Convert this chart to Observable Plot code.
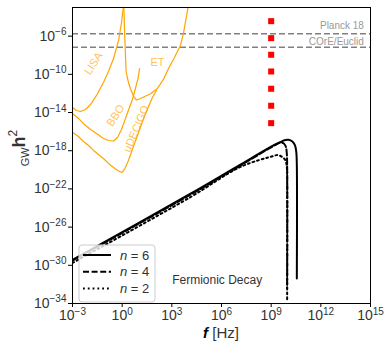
<!DOCTYPE html>
<html><head><meta charset="utf-8">
<script src="https://cdn.jsdelivr.net/npm/d3@7"></script>
<script src="https://cdn.jsdelivr.net/npm/@observablehq/plot@0.6"></script>
<style>body{margin:0;background:#fff} #chart{position:absolute;left:0;top:0}</style>
</head><body><div id="chart"></div>
<script>
// ---- data (log10 values) ----
const xTickExps = [-3, 0, 3, 6, 9, 12, 15];
const yTickExps = [-34, -30, -26, -22, -18, -14, -10, -6];

const boundNames = ["Planck 18", "COrE/Euclid"];
const boundLogOmega = [-5.76, -7.16];

const lisaLogF = [-3.00, -2.76, -2.52, -2.21, -1.91, -1.55, -1.13, -0.83, -0.52, -0.22, -0.04, 0.08];
const lisaLogO = [-13.47, -13.79, -13.89, -13.68, -13.16, -12.21, -10.85, -9.70, -8.34, -6.46, -4.57, -2.79];
const bboLogF = [-3.00, -2.64, -2.28, -1.91, -1.55, -1.13, -0.83, -0.52, -0.28, -0.04, 0.20, 0.44, 0.62, 0.80, 0.96, 1.05];
const bboLogO = [-14.10, -14.62, -15.25, -15.77, -16.19, -16.72, -16.93, -16.98, -16.61, -15.77, -14.62, -13.47, -12.63, -11.48, -10.43, -9.39];
const decigoLogF = [-3.00, -2.64, -2.34, -2.03, -1.73, -1.43, -1.13, -0.83, -0.52, -0.22, -0.01, 0.14, 0.38, 0.68, 0.99, 1.29, 1.59, 1.83, 2.07];
const decigoLogO = [-16.06, -16.51, -17.03, -17.45, -17.97, -18.39, -18.81, -19.33, -19.75, -20.12, -20.28, -19.96, -19.02, -17.55, -16.09, -14.62, -13.37, -12.42, -11.69];
const etLogF = [0.10, 0.16, 0.24, 0.38, 0.50, 0.70, 0.86, 1.11, 1.71, 2.13, 2.51, 2.80, 3.12, 3.52, 3.70, 4.00];
const etLogO = [-2.79, -6.25, -9.77, -10.85, -11.51, -12.32, -12.69, -12.53, -12.04, -11.48, -10.47, -9.39, -8.37, -6.98, -5.72, -2.79];

const sensNames = ["LISA", "BBO", "uDECIGO", "ET"];
const sensLabelLogF = [-1.73, -0.40, 0.85, 2.13];
const sensLabelLogO = [-8.86, -14.31, -15.70, -8.76];
const sensLabelAngle = [-57, -57, -67, 0];

const redLogF = [9, 9, 9, 9, 9, 9, 9];
const redLogO = [-4.43, -6.21, -7.95, -9.70, -11.51, -13.29, -15.11];

const seriesNames = ["n = 6", "n = 4", "n = 2"];
const n6LogF = [-3, 4.13, 7.14, 9.14, 9.56, 9.80, 10.04, 10.28, 10.44, 10.52, 10.55, 10.55];
const n6LogO = [-29.42, -22.5, -19.45, -17.45, -17.10, -16.90, -16.86, -17.03, -17.45, -18.18, -19.5, -31.38];
const n4LogF = [-3, 4.13, 7.14, 9.3, 9.56, 9.75, 9.88, 9.94, 9.965, 9.965];
const n4LogO = [-29.5, -22.6, -19.55, -17.35, -17.15, -17.22, -17.55, -18.2, -19.4, -32.4];
const n2LogF = [-3, 4.13, 7.14, 9.14, 9.4, 9.66, 9.86, 9.95, 9.965, 9.965];
const n2LogO = [-29.75, -22.85, -19.7, -18.55, -18.45, -18.65, -19.0, -19.8, -21.0, -33.8];

const textLabel = "Fermionic Decay";
const textLabelLogF = 3.02, textLabelLogO = -31.6;

// ---- build tables ----
const p = (e) => Math.pow(10, e);
const sensSets = [[lisaLogF, lisaLogO], [bboLogF, bboLogO], [decigoLogF, decigoLogO], [etLogF, etLogO]];
const sensTable = sensSets.flatMap(([fs, os], i) => fs.map((f, j) => ({name: sensNames[i], f: p(f), o: p(os[j])})));
const sensLabels = sensNames.map((n, i) => ({text: n, f: p(sensLabelLogF[i]), o: p(sensLabelLogO[i]), rot: sensLabelAngle[i]}));
const redTable = redLogF.map((f, i) => ({f: p(f), o: p(redLogO[i])}));
const mk = (fs, os) => fs.map((f, i) => ({f: p(f), o: p(os[i])}));
const n6 = mk(n6LogF, n6LogO), n4 = mk(n4LogF, n4LogO), n2 = mk(n2LogF, n2LogO);
const bounds = boundNames.map((n, i) => ({name: n, o: p(boundLogOmega[i])}));

const fmt = (d) => "10^" + String(Math.round(Math.log10(d))).replace("-", "\u2212");
const FONT = "Liberation Sans, Arial, sans-serif";

const chart = Plot.plot({
  width: 384, height: 343,
  marginLeft: 72, marginRight: 14, marginTop: 7, marginBottom: 40,
  style: {fontFamily: FONT, fontSize: "14px", color: "#333", background: "white", overflow: "visible"},
  x: {type: "log", domain: [1e-3, 1e15]},
  y: {type: "log", domain: [1e-34, 1e-3]},
  marks: [
    Plot.ruleY(bounds, {y: "o", stroke: "#808080", strokeWidth: 1.5, strokeDasharray: "6,3"}),
    Plot.text(bounds.slice(0, 1), {y: "o", x: p(14.6), text: "name", textAnchor: "end", dy: -8, fill: "#999", fontSize: 10}),
    Plot.text(bounds.slice(1, 2), {y: "o", x: p(14.6), text: "name", textAnchor: "end", dy: -5, fill: "#999", fontSize: 10}),
    Plot.line(sensTable, {x: "f", y: "o", z: "name", stroke: "#FFA500", strokeWidth: 1.2, clip: true}),
    Plot.text(sensLabels, {x: "f", y: "o", text: "text", rotate: "rot", fill: "#FFA500", fillOpacity: 0.7, fontSize: 11}),
    Plot.dot(redTable, {x: "f", y: "o", symbol: "square", r: 3.4, fill: "red", stroke: "none"}),
    Plot.line(n6, {x: "f", y: "o", stroke: "black", strokeWidth: 2, curve: "catmull-rom", clip: true}),
    Plot.line(n4, {x: "f", y: "o", stroke: "black", strokeWidth: 2, strokeDasharray: "6,2.6", curve: "catmull-rom", clip: true}),
    Plot.line(n2, {x: "f", y: "o", stroke: "black", strokeWidth: 2, strokeDasharray: "1.8,3", curve: "catmull-rom", clip: true}),
    Plot.text([textLabel], {x: p(textLabelLogF), y: p(textLabelLogO), text: d => d, textAnchor: "start", fill: "#333", fontSize: 12}),
    Plot.frame({stroke: "black", strokeWidth: 1}),
    Plot.axisX(xTickExps.map(p), {tickSize: 4, tickPadding: 3, tickFormat: fmt, label: null, fontSize: 14, stroke: "black"}),
    Plot.axisY(yTickExps.map(p), {tickSize: 4, tickPadding: 2, tickFormat: fmt, label: null, fontSize: 14, stroke: "black"})
  ]
});
document.getElementById("chart").appendChild(chart);

// superscripts for tick labels
const svg = d3.select(chart);
svg.selectAll('g[aria-label="x-axis tick label"] text, g[aria-label="y-axis tick label"] text').each(function() {
  const t = d3.select(this);
  const s = t.text();
  if (!s.includes("^")) return;
  const [base, ex] = s.split("^");
  t.text("");
  t.append("tspan").text(base);
  t.append("tspan").attr("dy", "-0.55em").attr("font-size", "10px").text(ex);
});
svg.selectAll('g[aria-label="x-axis tick label"] text').attr("fill", "#333");
svg.selectAll('g[aria-label="y-axis tick label"] text').attr("fill", "#333");

// axis labels
const xl = svg.append("text").attr("x", 221).attr("y", 338).attr("text-anchor", "middle")
  .attr("font-family", FONT).attr("font-size", 15).attr("fill", "#333");
xl.append("tspan").attr("font-weight", "bold").attr("font-style", "italic").attr("fill", "#000").text("f");
xl.append("tspan").text(" [Hz]");

const yl = svg.append("text").attr("transform", "translate(25,148) rotate(-90)").attr("text-anchor", "middle")
  .attr("font-family", FONT).attr("fill", "#333");
yl.append("tspan").attr("font-size", 11).attr("dy", 4).text("GW");
yl.append("tspan").attr("font-size", 18).attr("font-weight", "bold").attr("dy", -4).text("h");
yl.append("tspan").attr("font-size", 12).attr("dy", -8).text("2");

// legend
const lg = svg.append("g");
lg.append("rect").attr("x", 79).attr("y", 245).attr("width", 76).attr("height", 57).attr("rx", 3)
  .attr("fill", "white").attr("fill-opacity", 0.8).attr("stroke", "#ccc");
const dashes = [null, "6,2.6", "1.8,3"];
seriesNames.forEach((name, i) => {
  const y = 255 + i * 16.7;
  lg.append("line").attr("x1", 83).attr("x2", 111).attr("y1", y).attr("y2", y)
    .attr("stroke", "black").attr("stroke-width", 2).attr("stroke-dasharray", dashes[i]);
  const t = lg.append("text").attr("x", 120).attr("y", y + 4.5).attr("text-anchor", "start")
    .attr("font-family", FONT).attr("font-size", 13).attr("fill", "#333");
  const [a, b] = name.split(" = ");
  t.append("tspan").attr("font-style", "italic").text(a);
  t.append("tspan").text(" = " + b);
});
</script>
</body></html>
